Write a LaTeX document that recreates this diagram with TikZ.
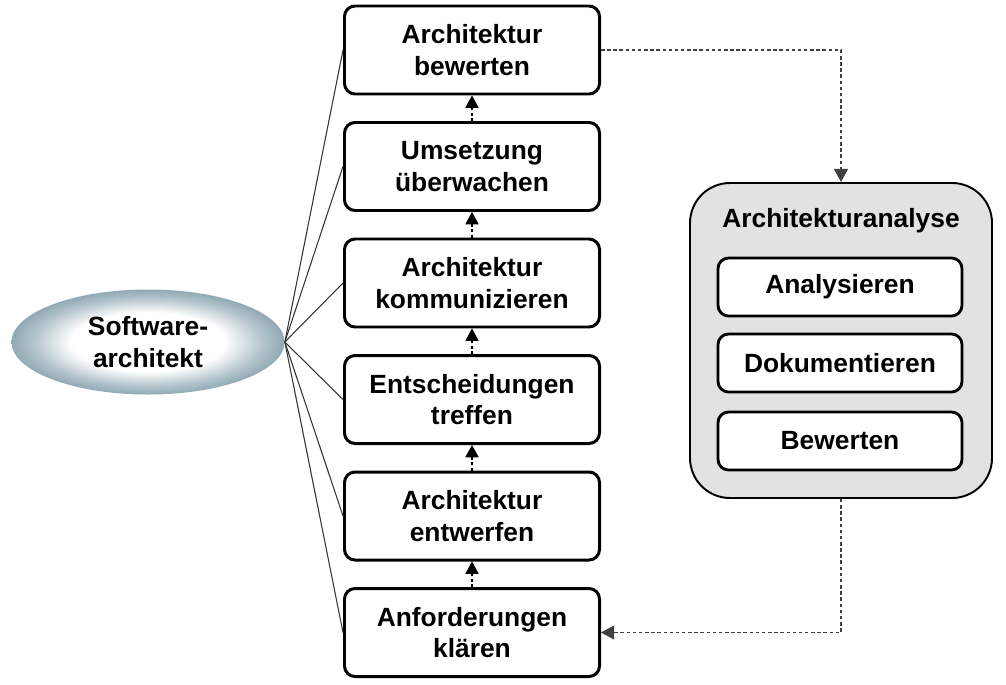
\documentclass[tikz,border=0pt]{standalone}
\usepackage{fontspec}
\setmainfont{Liberation Sans}
\usetikzlibrary{arrows.meta,shapes.geometric}
\definecolor{ellcol}{RGB}{128,156,168}
\definecolor{boxgray}{RGB}{226,226,226}
\pgfdeclareradialshading{ellshade}{\pgfpoint{0bp}{0bp}}{color(0bp)=(white); color(14bp)=(white); color(21bp)=(ellcol!60); color(27bp)=(ellcol); color(50bp)=(ellcol)}

\begin{document}
\begin{tikzpicture}[
		font=\fontsize{15}{18}\selectfont\bfseries,
		task/.style={draw, line width=1.7pt, rounded corners=6pt, fill=white, minimum width=5.1cm, minimum height=1.76cm, align=center},
		sub/.style={draw, line width=1.6pt, rounded corners=6pt, fill=white, minimum width=4.88cm, minimum height=1.16cm},
		link/.style={line width=0.6pt, draw=black!80},
		uparrow/.style={dash pattern=on 1.6pt off 1.4pt, line width=0.6pt, -{Triangle[width=7.5pt,length=7pt]}},
		flow/.style={dash pattern=on 2pt off 1.5pt, line width=0.6pt, draw=black!75, -{Triangle[width=8pt,length=7.5pt]}}
	]
			\useasboundingbox (0,0) rectangle (20.12,-13.68);

			\node[ellipse, minimum width=5.46cm, minimum height=2.1cm, shading=ellshade, align=center] (SA) at (2.96,-6.84) {Software-\\architekt};

			\node[task] (T1) at (9.44,-1.0) {Architektur\\bewerten};
			\node[task] (T2) at (9.44,-3.33) {Umsetzung\\überwachen};
			\node[task] (T3) at (9.44,-5.66) {Architektur\\kommunizieren};
			\node[task] (T4) at (9.44,-7.99) {Entscheidungen\\treffen};
			\node[task] (T5) at (9.44,-10.32) {Architektur\\entwerfen};
			\node[task] (T6) at (9.44,-12.65) {Anforderungen\\klären};

			\node[draw, line width=1.1pt, rounded corners=0.8cm, fill=boxgray, minimum width=6.04cm, minimum height=6.3cm] (AA) at (16.82,-6.81) {};
			\node (AAt) at (16.82,-4.42) {Architekturanalyse};
			\node[sub] (AA1) at (16.8,-5.74) {Analysieren};
			\node[sub] (AA2) at (16.8,-7.26) {Dokumentieren};
			\node[sub] (AA3) at (16.8,-8.82) {Bewerten};

			\foreach \i in {1,...,6}
			\draw[link] (SA.east) -- (T\i.west);

			\foreach \i/\j in {6/5, 5/4, 4/3, 3/2, 2/1}
			\draw[uparrow] (T\i) -- (T\j);

			\draw[flow] (T1.east) -| (AA.north);
			\draw[flow] (AA.south) |- (T6.east);
		\end{tikzpicture}
\end{document}
